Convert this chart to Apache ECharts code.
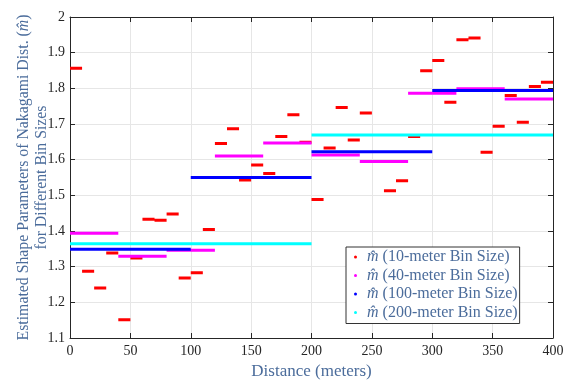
<!DOCTYPE html>
<html>
<head>
<meta charset="utf-8">
<script src="https://cdn.jsdelivr.net/npm/echarts@6/dist/echarts.min.js"></script>
<style>
  html, body { margin: 0; padding: 0; background: #fff; }
  #chart { width: 571px; height: 384px; }
</style>
</head>
<body>
<div id="chart"></div>
<script>
// m-hat estimates per bin (bins start at 0 m)
const bin10 = [
  1.856, 1.287, 1.240, 1.338, 1.151, 1.324, 1.433, 1.430, 1.448, 1.268,
  1.283, 1.404, 1.645, 1.687, 1.543, 1.585, 1.561, 1.665, 1.726, 1.649,
  1.488, 1.633, 1.746, 1.655, 1.731, 1.595, 1.513, 1.541, 1.665, 1.849,
  1.878, 1.761, 1.936, 1.941, 1.621, 1.694, 1.780, 1.705, 1.805, 1.817
];
const bin40 = [1.394, 1.329, 1.346, 1.610, 1.647, 1.613, 1.595, 1.786, 1.799, 1.770];
const bin100 = [1.349, 1.550, 1.622, 1.794];
const bin200 = [1.364, 1.669];

const xTicks = [0, 50, 100, 150, 200, 250, 300, 350, 400];
const yTicks = [1.1, 1.2, 1.3, 1.4, 1.5, 1.6, 1.7, 1.8, 1.9, 2];

const seriesNames = [
  'm\u0302 (10-meter Bin Size)',
  'm\u0302 (40-meter Bin Size)',
  'm\u0302 (100-meter Bin Size)',
  'm\u0302 (200-meter Bin Size)'
];
const seriesColors = ['#ff0000', '#ff00ff', '#0000ff', '#00ffff'];

// one flat segment per bin, broken between bins
function segments(values, width) {
  const out = [];
  values.forEach((v, i) => {
    out.push([i * width, v], [(i + 1) * width, v], [(i + 1) * width, '-']);
  });
  return out;
}

const serif = 'Liberation Serif';
const titleColor = '#4b6c9b';
const axisColor = '#262626';

const chart = echarts.init(document.getElementById('chart'));

const sets = [[bin10, 10], [bin40, 40], [bin100, 100], [bin200, 200]];

const option = {
  animation: false,
  grid: { left: 70, right: 18, top: 17, bottom: 46, containLabel: false, outerBoundsMode: 'none' },
  legend: {
    orient: 'vertical',
    left: 346,
    top: 247,
    padding: [2, 2, 3, 8],
    backgroundColor: '#fff',
    borderColor: '#333',
    borderWidth: 1,
    borderRadius: 0,
    icon: 'circle',
    itemWidth: 3,
    itemHeight: 3,
    itemGap: 2.5,
    data: seriesNames,
    formatter: (name) => '{i|m\u0302}' + name.slice(2),
    textStyle: {
      fontFamily: serif,
      fontSize: 16,
      color: titleColor,
      lineHeight: 15,
      padding: [0, 0, 0, 5],
      rich: {
        i: { fontFamily: serif, fontStyle: 'italic', fontSize: 16, color: titleColor, lineHeight: 15 }
      }
    }
  },
  xAxis: [
    {
      type: 'value',
      min: xTicks[0],
      max: xTicks[xTicks.length - 1],
      interval: 50,
      name: 'Distance (meters)',
      nameLocation: 'middle',
      nameGap: 25,
      nameMoveOverlap: false,
      nameTextStyle: { fontFamily: serif, fontSize: 17, color: titleColor },
      axisLine: { lineStyle: { color: axisColor } },
      axisTick: { inside: true, length: 5, lineStyle: { color: axisColor } },
      axisLabel: { fontFamily: serif, fontSize: 14, color: axisColor, margin: 6 },
      splitLine: { show: true, lineStyle: { color: '#e6e6e6', width: 1 } }
    },
    {
      type: 'value',
      position: 'top',
      min: xTicks[0],
      max: xTicks[xTicks.length - 1],
      interval: 50,
      axisLine: { onZero: false, lineStyle: { color: axisColor } },
      axisTick: { inside: true, length: 5, lineStyle: { color: axisColor } },
      axisLabel: { show: false },
      splitLine: { show: false }
    }
  ],
  yAxis: [
    {
      type: 'value',
      min: yTicks[0],
      max: yTicks[yTicks.length - 1],
      interval: 0.1,
      name: 'Estimated Shape Parameters of Nakagami Dist. ({i|m\u0302})\nfor Different Bin Sizes',
      nameLocation: 'middle',
      nameGap: 19,
      nameMoveOverlap: false,
      nameRotate: 90,
      nameTextStyle: {
        fontFamily: serif,
        fontSize: 15.8,
        color: titleColor,
        lineHeight: 18,
        rich: {
          i: { fontFamily: serif, fontStyle: 'italic', fontSize: 15.8, color: titleColor, lineHeight: 18 }
        }
      },
      axisLine: { onZero: false, lineStyle: { color: axisColor } },
      axisTick: { inside: true, length: 5, lineStyle: { color: axisColor } },
      axisLabel: {
        fontFamily: serif,
        fontSize: 14,
        color: axisColor,
        margin: 5,
        formatter: (v) => String(+v.toFixed(1))
      },
      splitLine: { show: true, lineStyle: { color: '#e6e6e6', width: 1 } }
    },
    {
      type: 'value',
      position: 'right',
      min: yTicks[0],
      max: yTicks[yTicks.length - 1],
      interval: 0.1,
      axisLine: { show: true, onZero: false, lineStyle: { color: axisColor } },
      axisTick: { show: true, inside: true, length: 5, lineStyle: { color: axisColor } },
      axisLabel: { show: false },
      splitLine: { show: false }
    }
  ],
  series: sets.map(([values, width], k) => ({
    name: seriesNames[k],
    type: 'line',
    data: segments(values, width),
    connectNulls: false,
    showSymbol: false,
    symbol: 'circle',
    symbolSize: 3,
    itemStyle: { color: seriesColors[k] },
    lineStyle: { color: seriesColors[k], width: 3, cap: 'butt' },
    z: 2 + k
  }))
};

chart.setOption(option);
</script>
</body>
</html>
